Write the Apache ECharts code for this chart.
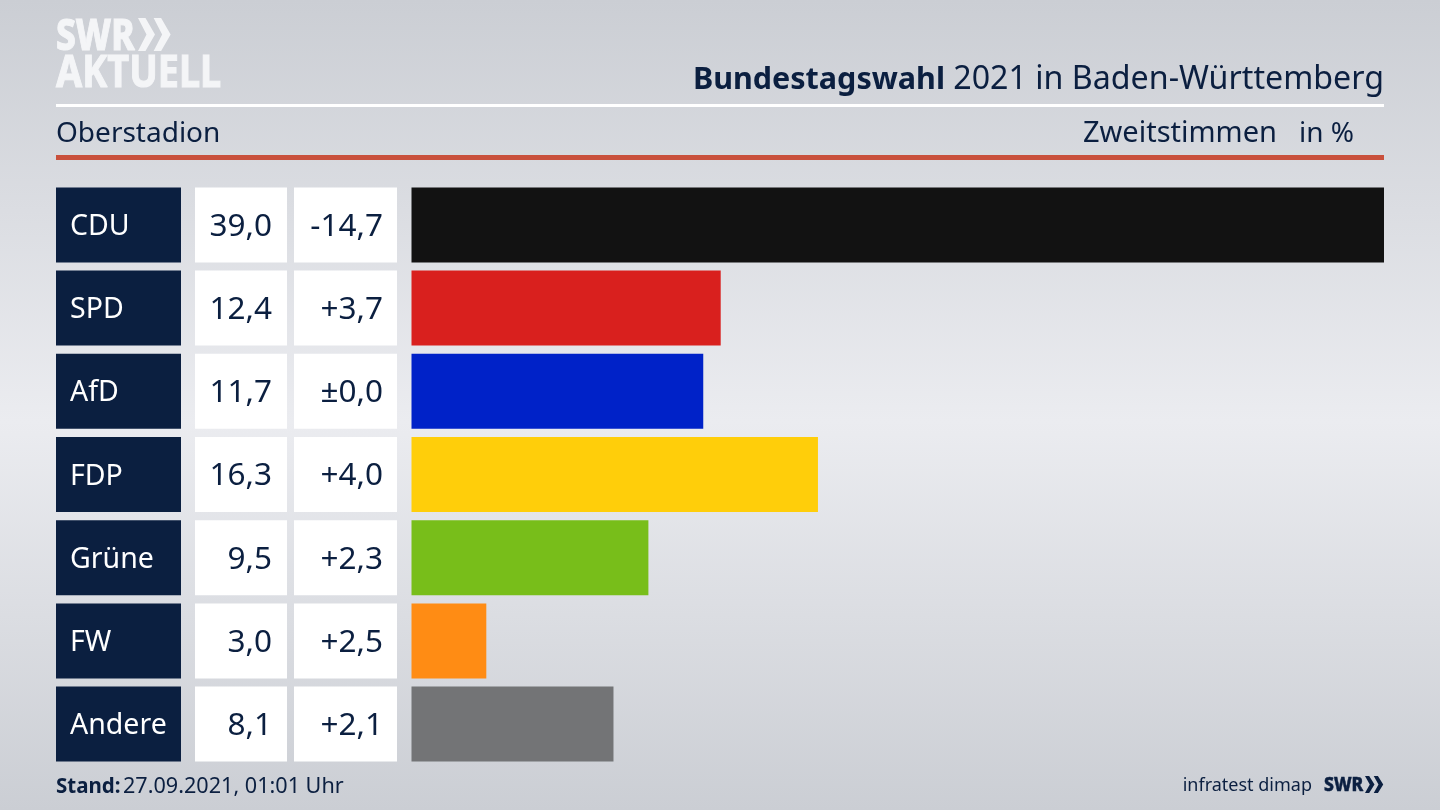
<!DOCTYPE html>
<html>
<head>
<meta charset="utf-8">
<style>
  html, body { margin: 0; padding: 0; background: #dcdee3; }
  #chart { width: 1440px; height: 810px; }
</style>
<script src="https://cdn.jsdelivr.net/npm/echarts@6/dist/echarts.min.js"></script>
</head>
<body>
<div id="chart"></div>
<script>
// Daten
const parties = ['CDU', 'SPD', 'AfD', 'FDP', 'Grüne', 'FW', 'Andere']
const shares = [39.0, 12.4, 11.7, 16.3, 9.5, 3.0, 8.1]
const diffs = ['-14,7', '+3,7', '±0,0', '+4,0', '+2,3', '+2,5', '+2,1']
const barColors = ['#121212', '#d9201e', '#0022c8', '#ffce0a', '#78be1a', '#ff8c14', '#737476']

const navy = '#0b1f40'
const logoWhite = '#f4f5f7'
const font = '"Noto Sans", sans-serif'

const chart = echarts.init(document.getElementById('chart'))

// gleiche Zeilenhöhe für alle vier Spalten
const rowGrid = (left, width) => ({ left, width, top: 183.3, height: 582.4 })
const rowAxis = (gridIndex) => ({
  type: 'category', gridIndex, data: parties, inverse: true, show: false
})
const cellAxis = (gridIndex) => ({
  type: 'value', gridIndex, min: 0, max: 1, show: false
})
// Spalte mit Zellen: ein Balken über die volle Breite, Text als Label
const cellSeries = (idx, color, label) => ({
  type: 'bar',
  xAxisIndex: idx,
  yAxisIndex: idx,
  barWidth: 75,
  silent: true,
  itemStyle: { color },
  data: parties.map(() => 1),
  label: Object.assign({ show: true, fontFamily: font, fontSize: 31.5, offset: [0, 2] }, label)
})

const chevrons = (x, y, w, h, fill) => [0, 0.92].map((k) => ({
  type: 'polygon',
  silent: true,
  style: { fill },
  shape: {
    points: [
      [x + k * w, y], [x + k * w + w * 0.44, y],
      [x + k * w + w, y + h / 2],
      [x + k * w + w * 0.44, y + h], [x + k * w, y + h],
      [x + k * w + w * 0.5, y + h / 2]
    ]
  }
}))
const text = (x, y, str, style, extra) => Object.assign({
  type: 'text',
  x, y,
  silent: true,
  style: Object.assign({
    text: str, fontFamily: font, fill: navy, textVerticalAlign: 'middle'
  }, style)
}, extra)
const rule = (y, h, fill) => ({
  type: 'rect', silent: true,
  shape: { x: 56, y, width: 1328, height: h },
  style: { fill }
})

const option = {
  animation: false,
  backgroundColor: new echarts.graphic.LinearGradient(0, 0, 0, 1, [
    { offset: 0, color: '#cbced4' },
    { offset: 0.52, color: '#ebecf0' },
    { offset: 1, color: '#cbced4' }
  ]),
  grid: [rowGrid(56, 125), rowGrid(195, 92), rowGrid(294, 103), rowGrid(411.5, 972.5)],
  yAxis: [rowAxis(0), rowAxis(1), rowAxis(2), rowAxis(3)],
  xAxis: [
    cellAxis(0), cellAxis(1), cellAxis(2),
    { type: 'value', gridIndex: 3, min: 0, max: 39, show: false }
  ],
  series: [
    cellSeries(0, navy, {
      position: 'insideLeft', distance: 14, color: '#fff', fontSize: 28.5,
      formatter: (p) => parties[p.dataIndex]
    }),
    cellSeries(1, '#fff', {
      position: 'insideRight', distance: 15, color: navy,
      formatter: (p) => shares[p.dataIndex].toFixed(1).replace('.', ',')
    }),
    cellSeries(2, '#fff', {
      position: 'insideRight', distance: 14, color: navy,
      formatter: (p) => diffs[p.dataIndex]
    }),
    {
      type: 'bar',
      xAxisIndex: 3,
      yAxisIndex: 3,
      barWidth: 75,
      silent: true,
      data: shares.map((v, i) => ({ value: v, itemStyle: { color: barColors[i] } }))
    }
  ],
  graphic: [
    rule(104, 3, '#ffffff'),
    rule(155, 5, '#c9503c'),
    text(56, 38, 'SWR', { fontSize: 42, fontWeight: 800, fill: logoWhite, stroke: logoWhite, lineWidth: 1 }, { scaleX: 0.84 }),
    text(56, 74, 'AKTUELL', { fontSize: 44, fontWeight: 700, fill: logoWhite, stroke: logoWhite, lineWidth: 1 }, { scaleX: 0.86 }),
    ...chevrons(138, 18, 17, 33, logoWhite),
    text(1384, 80, '2021 in Baden-Württemberg', { fontSize: 32.2, textAlign: 'right' }),
    text(945, 80, 'Bundestagswahl', { fontSize: 30.5, fontWeight: 700, textAlign: 'right' }),
    text(56, 134, 'Oberstadion', { fontSize: 28 }),
    text(1277, 134, 'Zweitstimmen', { fontSize: 29, textAlign: 'right' }),
    text(1354, 134, 'in %', { fontSize: 28, textAlign: 'right' }),
    text(56, 787, 'Stand:', { fontSize: 20.5, fontWeight: 700 }),
    text(123, 787, '27.09.2021, 01:01 Uhr', { fontSize: 21.6 }),
    text(1312, 786, 'infratest dimap', { fontSize: 18, textAlign: 'right' }),
    text(1324, 785, 'SWR', { fontSize: 20, fontWeight: 800, stroke: navy, lineWidth: 0.5 }, { scaleX: 0.88 }),
    ...chevrons(1365, 776, 9.5, 17, navy)
  ]
}
chart.setOption(option)
</script>
</body>
</html>
